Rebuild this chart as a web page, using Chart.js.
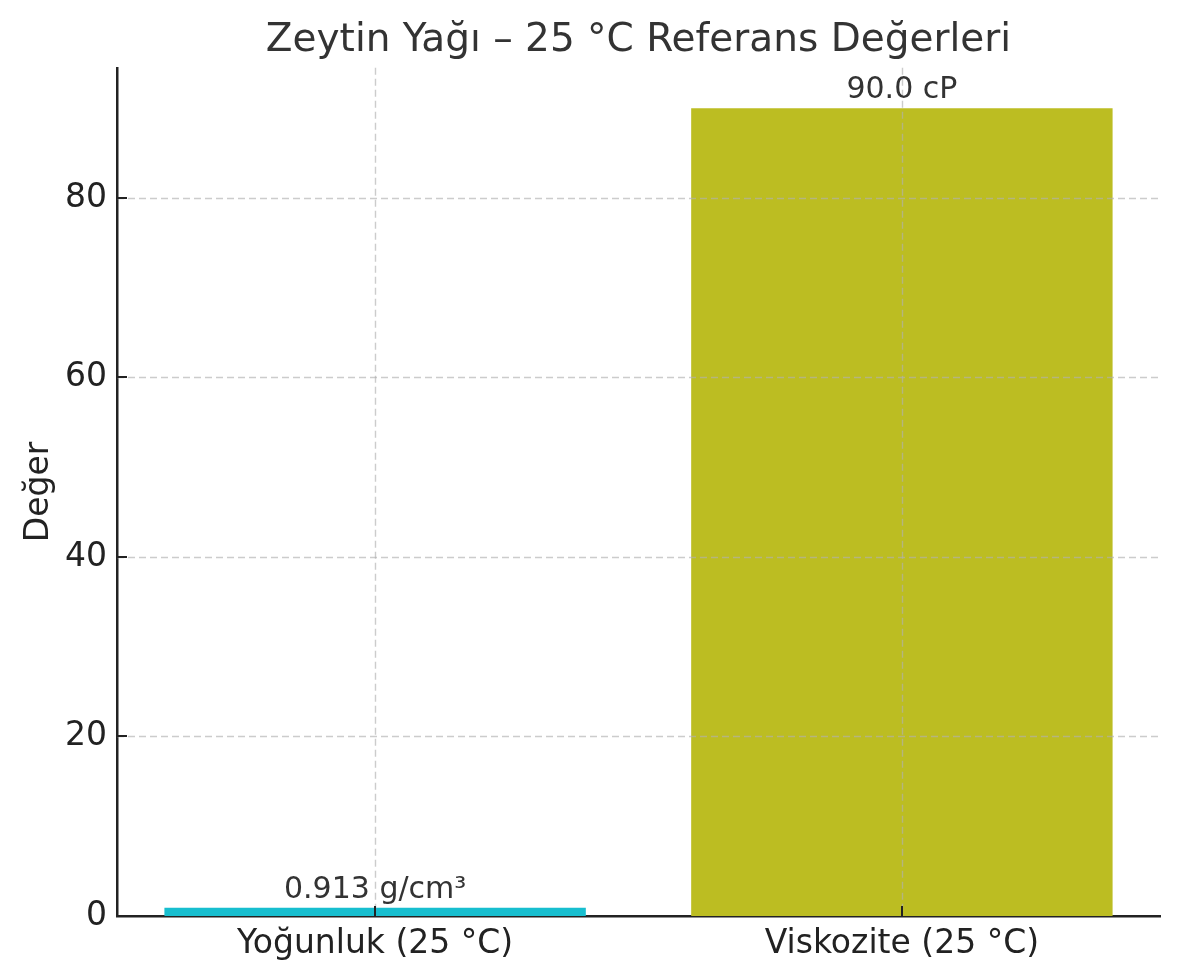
<!DOCTYPE html>
<html>
<head>
<meta charset="utf-8">
<script src="https://cdn.jsdelivr.net/npm/chart.js@4.4.1/dist/chart.umd.min.js"></script>
<style>
    body { margin: 0; background: #ffffff; }
    #wrap { width: 1180px; height: 980px; }
</style>
</head>
<body>
<div id="wrap"><canvas id="oilChart" width="1180" height="980"></canvas></div>
<script>
// data
const categories = ["Yoğunluk (25 °C)", "Viskozite (25 °C)"];
const values = [0.913, 90.0];
const valueLabels = ["0.913 g/cm³", "90.0 cP"];
const barColors = ["#17becf", "#bcbd22"];
const yTicks = [0, 20, 40, 60, 80];

const FONT = "'DejaVu Sans', sans-serif";

// grid over the bars, inward tick marks, value labels
const overlay = {
    id: "overlay",
    afterDatasetsDraw(chart) {
        const { ctx, chartArea, scales } = chart;
        const x = scales.x;
        const y = scales.y;
        ctx.save();

        ctx.strokeStyle = "rgba(176,176,176,0.65)";
        ctx.lineWidth = 1.4;
        ctx.setLineDash([7, 4]);
        y.ticks.forEach((t, i) => {
            if (t.value === 0) return;
            const py = Math.round(y.getPixelForTick(i)) + 0.5;
            ctx.beginPath();
            ctx.moveTo(chartArea.left, py);
            ctx.lineTo(chartArea.right, py);
            ctx.stroke();
        });
        x.ticks.forEach((t, i) => {
            const px = Math.round(x.getPixelForTick(i)) + 0.5;
            ctx.beginPath();
            ctx.moveTo(px, chartArea.top);
            ctx.lineTo(px, chartArea.bottom);
            ctx.stroke();
        });

        ctx.setLineDash([]);
        ctx.strokeStyle = "#222222";
        ctx.lineWidth = 2;
        y.ticks.forEach((t, i) => {
            const py = Math.round(y.getPixelForTick(i));
            ctx.beginPath();
            ctx.moveTo(chartArea.left, py);
            ctx.lineTo(chartArea.left + 10, py);
            ctx.stroke();
        });
        x.ticks.forEach((t, i) => {
            const px = Math.round(x.getPixelForTick(i));
            ctx.beginPath();
            ctx.moveTo(px, chartArea.bottom);
            ctx.lineTo(px, chartArea.bottom - 10);
            ctx.stroke();
        });

        ctx.fillStyle = "#333333";
        ctx.font = "30px " + FONT;
        ctx.textAlign = "center";
        ctx.textBaseline = "alphabetic";
        chart.getDatasetMeta(0).data.forEach((bar, i) => {
            ctx.fillText(valueLabels[i], bar.x, bar.y - 10);
        });
        ctx.restore();
    }
};

new Chart(document.getElementById("oilChart"), {
    type: "bar",
    data: {
        datasets: [{
            data: values.map((v, i) => ({ x: i, y: v })),
            backgroundColor: barColors,
            borderWidth: 0,
            barPercentage: 0.8,
            categoryPercentage: 1.0
        }]
    },
    options: {
        responsive: false,
        animation: false,
        devicePixelRatio: 1,
        layout: { padding: { left: 0, right: 20, top: 0, bottom: 0 } },
        plugins: {
            legend: { display: false },
            tooltip: { enabled: false },
            title: {
                display: true,
                fullSize: false,
                text: "Zeytin Yağı – 25 °C Referans Değerleri",
                color: "#333333",
                font: { family: FONT, size: 39, weight: "normal" },
                padding: { top: 17, bottom: 4 }
            }
        },
        scales: {
            x: {
                type: "linear",
                min: -0.49,
                max: 1.49,
                offset: false,
                afterBuildTicks(scale) {
                    scale.ticks = categories.map((c, i) => ({ value: i }));
                },
                grid: { display: false, drawTicks: false },
                border: { display: true, color: "#222222", width: 2.5 },
                ticks: {
                    color: "#222222",
                    padding: 9,
                    font: { family: FONT, size: 33 },
                    callback: (v) => categories[v]
                },
                afterFit(scale) { scale.height = 64; }
            },
            y: {
                min: 0,
                max: 94.5,
                afterBuildTicks(scale) {
                    scale.ticks = yTicks.map(v => ({ value: v }));
                },
                grid: { display: false, drawTicks: false },
                border: { display: true, color: "#222222", width: 2.5 },
                ticks: {
                    color: "#222222",
                    padding: 10,
                    font: { family: FONT, size: 33 }
                },
                title: {
                    display: true,
                    text: "Değer",
                    color: "#222222",
                    font: { family: FONT, size: 33 },
                    padding: { top: 20, bottom: 0 }
                },
                afterFit(scale) { scale.width = 117; }
            }
        }
    },
    plugins: [overlay]
});
</script>
</body>
</html>
